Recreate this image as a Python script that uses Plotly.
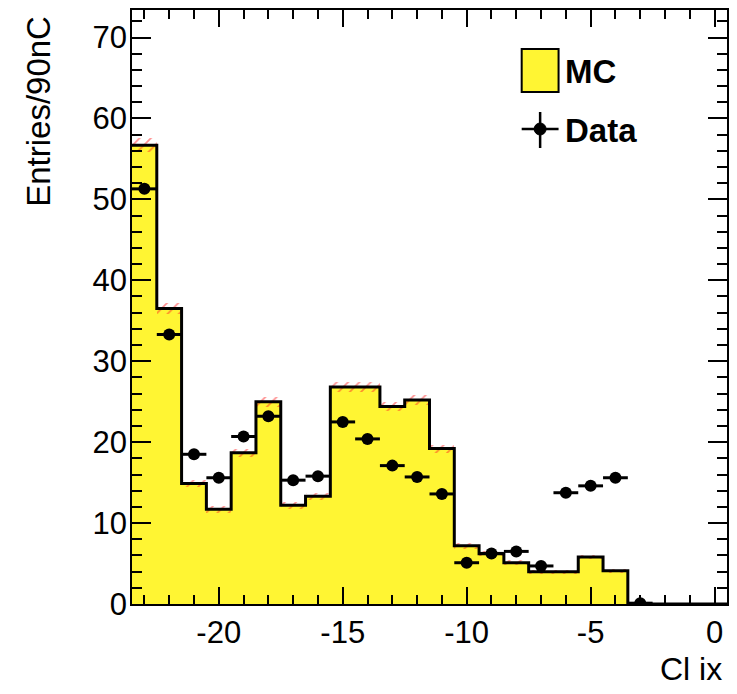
import plotly.graph_objects as go

# ---- data ----
bin_centers = [-23, -22, -21, -20, -19, -18, -17, -16, -15, -14, -13, -12,
               -11, -10, -9, -8, -7, -6, -5, -4, -3, -2, -1, 0]
mc_values = [56.7, 36.5, 14.9, 11.7, 18.7, 25.0, 12.2, 13.3, 26.8, 26.8, 24.4, 25.2,
             19.2, 7.2, 6.2, 5.1, 4.0, 4.0, 5.8, 4.1, 0, 0, 0, 0]
mc_errors = [0.9, 0.7, 0.45, 0.4, 0.5, 0.6, 0.4, 0.45, 0.6, 0.6, 0.55, 0.6,
             0.5, 0.35, 0.3, 0.3, 0.25, 0.25, 0.3, 0.25, 0, 0, 0, 0]
data_x = [-23, -22, -21, -20, -19, -18, -17, -16, -15, -14, -13, -12,
          -11, -10, -9, -8, -7, -6, -5, -4, -3]
data_y = [51.3, 33.3, 18.5, 15.6, 20.7, 23.2, 15.3, 15.8, 22.5, 20.4, 17.1, 15.7,
          13.6, 5.1, 6.25, 6.5, 4.7, 13.75, 14.6, 15.6, 0.1]
bin_width = 1.0
x_range = [-23.5, 0.5]
y_range = [0, 73.4]
x_tickvals = [-20, -15, -10, -5, 0]
x_ticktext = ["-20", "-15", "-10", "-5", "0"]
y_tickvals = [0, 10, 20, 30, 40, 50, 60, 70]
y_ticktext = ["0", "10", "20", "30", "40", "50", "60", "70"]
x_title = "Cl ix"
y_title = "Entries/90nC"

YELLOW = "#fff533"
FONT = "Liberation Sans, Arial, Helvetica, sans-serif"

fig = go.Figure()

# MC filled histogram
fig.add_trace(go.Bar(
    x=bin_centers, y=mc_values, width=bin_width,
    marker=dict(color=YELLOW, line=dict(width=0)),
    showlegend=False, hoverinfo="skip",
))

# MC uncertainty hatch band
fig.add_trace(go.Bar(
    x=bin_centers,
    y=[2 * e for e in mc_errors],
    base=[v - e for v, e in zip(mc_values, mc_errors)],
    width=bin_width,
    marker=dict(color="rgba(0,0,0,0)", line=dict(width=0),
                pattern=dict(shape="/", fgcolor="#ff2020", bgcolor="rgba(0,0,0,0)",
                             size=8, solidity=0.22)),
    showlegend=False, hoverinfo="skip",
))

# MC outline as step line
left_edges = [c - bin_width / 2 for c in bin_centers]
step_x = left_edges + [bin_centers[-1] + bin_width / 2]
step_y = mc_values + [mc_values[-1]]
fig.add_trace(go.Scatter(
    x=step_x, y=step_y, mode="lines", line=dict(shape="hv", color="black", width=3),
    showlegend=False, hoverinfo="skip",
))

# Data points
fig.add_trace(go.Scatter(
    x=data_x, y=data_y, mode="markers",
    marker=dict(color="black", size=12, symbol="circle"),
    error_x=dict(type="constant", value=bin_width / 2, color="black", thickness=3, width=0),
    showlegend=False,
))

axis_common = dict(
    showline=True, linecolor="black", linewidth=1.5, mirror="ticks",
    ticks="inside", tickcolor="black", tickwidth=1.5,
    showgrid=False, zeroline=False,
    tickfont=dict(family=FONT, size=31, color="black"),
)

fig.update_xaxes(
    range=x_range, tickmode="array", tickvals=x_tickvals, ticktext=x_ticktext, ticklen=17,
    minor=dict(dtick=1, tick0=0, ticklen=9, ticks="inside", tickcolor="black", tickwidth=1.5),
    **axis_common,
)
fig.update_yaxes(
    range=y_range, tickmode="array", tickvals=y_tickvals, ticktext=y_ticktext, ticklen=19,
    ticklabelstandoff=-3,
    minor=dict(dtick=2, tick0=0, ticklen=10, ticks="inside", tickcolor="black", tickwidth=1.5),
    **axis_common,
)

L, R, T, B = 132, 8, 10, 90
W, H = 737, 694
pw, ph = W - L - R, H - T - B

def px(x):
    return (x - L) / pw

def py(y):
    return (H - B - y) / ph

shapes = [
    # MC legend box
    dict(type="rect", xref="paper", yref="paper",
         x0=px(523), x1=px(560), y0=py(92), y1=py(49),
         fillcolor=YELLOW, line=dict(color="black", width=2)),
    # Data legend cross
    dict(type="line", xref="paper", yref="paper",
         x0=px(523), x1=px(560), y0=py(129), y1=py(129),
         line=dict(color="black", width=2.5)),
    dict(type="line", xref="paper", yref="paper",
         x0=px(541.5), x1=px(541.5), y0=py(112), y1=py(148),
         line=dict(color="black", width=2.5)),
    dict(type="circle", xref="paper", yref="paper",
         x0=px(535.5), x1=px(547.5), y0=py(135), y1=py(123),
         fillcolor="black", line=dict(color="black", width=1)),
]

annotations = [
    dict(text="<b>MC</b>", xref="paper", yref="paper", x=px(564), y=py(71),
         xanchor="left", yanchor="middle", showarrow=False,
         font=dict(family=FONT, size=33, color="black")),
    dict(text="<b>Data</b>", xref="paper", yref="paper", x=px(564), y=py(130),
         xanchor="left", yanchor="middle", showarrow=False,
         font=dict(family=FONT, size=33, color="black")),
    dict(text=x_title, xref="paper", yref="paper", x=px(726), y=py(669),
         xanchor="right", yanchor="middle", showarrow=False,
         font=dict(family=FONT, size=32, color="black")),
    dict(text=y_title, xref="paper", yref="paper", x=px(38), y=py(14),
         xanchor="center", yanchor="top", textangle=-90, showarrow=False,
         font=dict(family=FONT, size=33, color="black")),
]

fig.update_layout(
    width=W, height=H,
    margin=dict(l=L, r=R, t=T, b=B, pad=0),
    plot_bgcolor="white", paper_bgcolor="white",
    barmode="overlay", bargap=0,
    shapes=shapes, annotations=annotations,
    showlegend=False,
)

fig.write_html("out.html")
